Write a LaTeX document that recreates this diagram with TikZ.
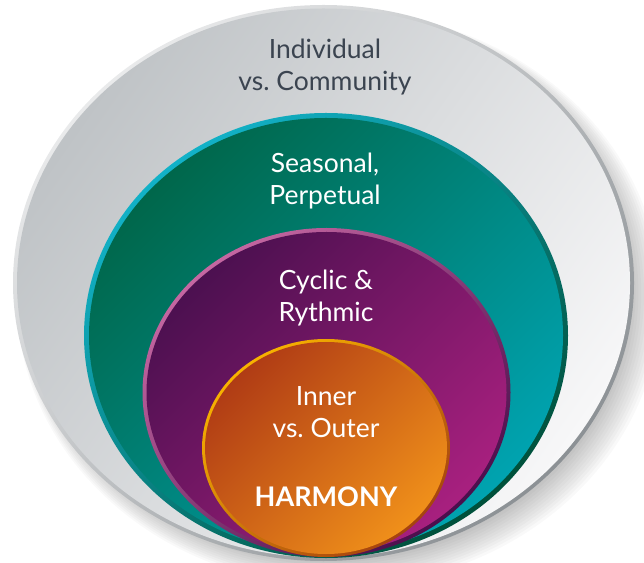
\documentclass[tikz,border=0pt]{standalone}
\usepackage{fontspec}
\setmainfont{Lato}
\usepackage{tikz}
\definecolor{rimlight}{HTML}{E9EAEB}
\definecolor{rimdark}{HTML}{8C9195}
\definecolor{greytop}{HTML}{BFC3C6}
\definecolor{greybottom}{HTML}{F7F7F8}
\definecolor{cyanrim}{HTML}{12B2C8}
\definecolor{greenrim}{HTML}{00503A}
\definecolor{greentop}{HTML}{00674B}
\definecolor{greenmid}{HTML}{00937C}
\definecolor{greenbottom}{HTML}{00A3B0}
\definecolor{pinkrim}{HTML}{C567A2}
\definecolor{plumrim}{HTML}{4A0E4C}
\definecolor{plumtop}{HTML}{4C1050}
\definecolor{plummid}{HTML}{7A1A72}
\definecolor{plumbottom}{HTML}{A8207F}
\definecolor{yellowrim}{HTML}{F8B300}
\definecolor{brownrim}{HTML}{A5420F}
\definecolor{orangetop}{HTML}{B03C15}
\definecolor{orangemid}{HTML}{E0541A}
\definecolor{orangebottom}{HTML}{F0901A}
\definecolor{slate}{HTML}{3B4450}
\tikzset{
ring label/.style={
  align=center,
  text=white,
  font=\fontsize{26.5}{32}\selectfont
},
outer label/.style={ring label, text=slate},
core label/.style={ring label, font=\fontsize{27}{32}\selectfont\bfseries},
}

\begin{document}
\begin{tikzpicture}[x=1pt,y=1pt]
\useasboundingbox (0,0) rectangle (644,562);
% the soft shadow
\foreach \s in {0,...,11}
{
  \fill[black,opacity=0.022]
    (330+\s*0.8,272-\s*0.8) ellipse [x radius=300+\s*2, y radius=270+\s*1.6];
}
% the rings, outside in
\shade[top color=rimlight,bottom color=rimdark,shading angle=45]
  (323.5,279) ellipse [x radius=310.5, y radius=278];
\shade[top color=greytop,bottom color=greybottom,shading angle=55]
  (323.5,279) ellipse [x radius=306.5, y radius=274.5];
\shade[top color=cyanrim,bottom color=greenrim,shading angle=40]
  (326,226.5) ellipse [x radius=242, y radius=222.5];
\shade[top color=greentop,middle color=greenmid,bottom color=greenbottom,shading angle=45]
  (326,226.5) ellipse [x radius=237, y radius=217.5];
\shade[top color=pinkrim,bottom color=plumrim,shading angle=40]
  (326.5,169.5) ellipse [x radius=184, y radius=164.5];
\shade[top color=plumtop,middle color=plummid,bottom color=plumbottom,shading angle=45]
  (326.5,169.5) ellipse [x radius=180, y radius=160.5];
\shade[top color=yellowrim,bottom color=brownrim,shading angle=40]
  (326,114) ellipse [x radius=124, y radius=109];
\shade[top color=orangetop,middle color=orangemid,bottom color=orangebottom,shading angle=45]
  (326,114) ellipse [x radius=121, y radius=106];
% the labels
\node[outer label] (individual) at (325,495) {Individual\\vs.\ Community};
\node[ring label] (seasonal) at (325,380.5) {Seasonal,\\Perpetual};
\node[ring label] (cyclic) at (326,263.5) {Cyclic \&\\Rythmic};
\node[ring label] (inner) at (326,150) {Inner\\vs.\ Outer};
\node[core label] (harmony) at (326,65) {HARMONY};
\end{tikzpicture}
\end{document}
